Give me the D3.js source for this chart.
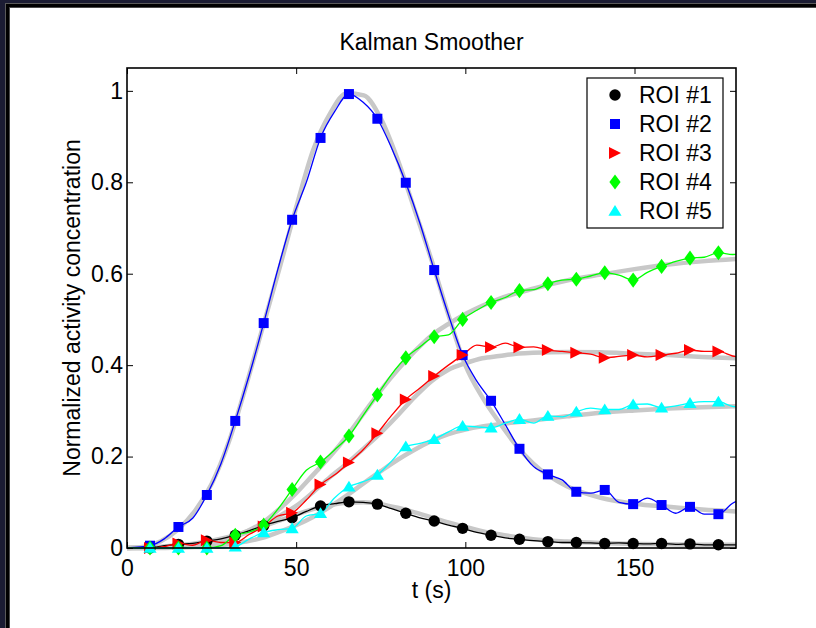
<!DOCTYPE html>
<html>
<head>
<meta charset="utf-8">
<script src="https://cdn.jsdelivr.net/npm/d3@7"></script>
<style>
  html, body { margin: 0; padding: 0; background: #1b1c33; }
  svg { display: block; }
  text { font-family: "Liberation Sans", Arial, Helvetica, sans-serif; fill: #000; }
</style>
</head>
<body>
<svg id="chart" width="816" height="628"></svg>
<script>
// ---------------- data ----------------
const title = "Kalman Smoother";
const xLabel = "t (s)";
const yLabel = "Normalized activity concentration";
const xTicks = [0, 50, 100, 150];
const yTicks = [0, 0.2, 0.4, 0.6, 0.8, 1];
const yTickLabels = ["0", "0.2", "0.4", "0.6", "0.8", "1"];
const roiNames = ["ROI #1", "ROI #2", "ROI #3", "ROI #4", "ROI #5"];
const roiColors = ["#000000", "#0000ff", "#ff0000", "#00ff00", "#00ffff"];

// measurement times (markers are drawn on every other sample, starting at 6.8 s)
const tMeas = [0, 6.8, 11.0, 15.2, 19.4, 23.6, 27.8, 32.0, 36.2, 40.4, 44.6, 48.8, 53.0, 57.2, 61.4,
  65.6, 69.8, 74.0, 78.2, 82.4, 86.6, 90.8, 95.0, 99.2, 103.4, 107.6, 111.8, 116.0, 120.2, 124.4,
  128.6, 132.8, 137.0, 141.2, 145.4, 149.6, 153.8, 158.0, 162.2, 166.4, 170.6, 174.8, 179.0, 183.2];

const roi1 = [0, 0.0, 0.005, 0.008, 0.01, 0.015, 0.02, 0.028, 0.038, 0.049, 0.058, 0.066, 0.08, 0.092,
  0.097, 0.101, 0.1, 0.096, 0.086, 0.076, 0.066, 0.059, 0.05, 0.043, 0.034, 0.028, 0.022, 0.019, 0.016,
  0.014, 0.012, 0.012, 0.011, 0.010, 0.011, 0.010, 0.009, 0.010, 0.008, 0.009, 0.007, 0.007, 0.007, 0.007];
const roi2 = [0, 0.005, 0.02, 0.046, 0.065, 0.116, 0.185, 0.278, 0.38, 0.492, 0.61, 0.718, 0.80, 0.897,
  0.955, 0.993, 0.975, 0.939, 0.875, 0.799, 0.71, 0.608, 0.51, 0.422, 0.365, 0.322, 0.27, 0.217, 0.178,
  0.161, 0.149, 0.123, 0.12, 0.127, 0.10, 0.096, 0.109, 0.094, 0.076, 0.090, 0.074, 0.074, 0.098, 0.11];
const roi3 = [0, 0.0, 0.003, 0.010, 0.006, 0.017, 0.012, 0.012, 0.03, 0.047, 0.07, 0.077, 0.105, 0.139,
  0.16, 0.187, 0.215, 0.251, 0.29, 0.325, 0.35, 0.376, 0.40, 0.422, 0.444, 0.439, 0.448, 0.439, 0.44,
  0.433, 0.43, 0.427, 0.424, 0.416, 0.419, 0.422, 0.418, 0.422, 0.426, 0.433, 0.43, 0.430, 0.42, 0.415];
const roi4 = [0, 0, 0, 0, 0, 0, 0.005, 0.028, 0.035, 0.050, 0.085, 0.128, 0.17, 0.188, 0.215, 0.245,
  0.29, 0.335, 0.38, 0.416, 0.44, 0.462, 0.466, 0.500, 0.52, 0.537, 0.548, 0.563, 0.565, 0.578, 0.586,
  0.588, 0.595, 0.602, 0.597, 0.586, 0.603, 0.616, 0.627, 0.634, 0.636, 0.646, 0.642, 0.643];
const roi5 = [0, 0, 0, 0, 0, 0, 0, 0.003, 0.02, 0.034, 0.04, 0.043, 0.07, 0.076, 0.11, 0.134, 0.145,
  0.160, 0.19, 0.222, 0.229, 0.238, 0.254, 0.267, 0.265, 0.263, 0.273, 0.282, 0.273, 0.289, 0.287,
  0.298, 0.306, 0.303, 0.303, 0.314, 0.315, 0.307, 0.311, 0.317, 0.320, 0.320, 0.31, 0.308];

// smoothed model fits (thick gray curves)
const tFit = [0, 5, 10, 15, 20, 25, 30, 35, 40, 45, 50, 55, 60, 65, 70, 75, 80, 85, 90, 95, 100,
  105, 110, 115, 120, 130, 140, 150, 160, 170, 180];
const fit1 = [0, 0.001, 0.003, 0.006, 0.01, 0.016, 0.024, 0.035, 0.047, 0.06, 0.073, 0.085, 0.094,
  0.099, 0.1, 0.096, 0.088, 0.078, 0.067, 0.056, 0.046, 0.037, 0.03, 0.024, 0.019, 0.014, 0.011,
  0.009, 0.008, 0.007, 0.007];
const fit2 = [0, 0.003, 0.015, 0.04, 0.08, 0.14, 0.23, 0.35, 0.48, 0.61, 0.745, 0.87, 0.95, 0.995,
  0.99, 0.94, 0.85, 0.74, 0.63, 0.51, 0.40, 0.33, 0.275, 0.225, 0.185, 0.135, 0.11, 0.097, 0.09,
  0.084, 0.08];
const fit3 = [0, 0, 0.001, 0.003, 0.006, 0.011, 0.02, 0.033, 0.05, 0.07, 0.092, 0.122, 0.155, 0.185,
  0.218, 0.252, 0.29, 0.33, 0.365, 0.39, 0.404, 0.415, 0.42, 0.425, 0.427, 0.429, 0.428, 0.425,
  0.422, 0.418, 0.415];
const fit4 = [0, 0, 0.001, 0.002, 0.005, 0.01, 0.02, 0.035, 0.055, 0.085, 0.12, 0.16, 0.2, 0.245,
  0.295, 0.345, 0.39, 0.43, 0.465, 0.49, 0.512, 0.53, 0.545, 0.557, 0.567, 0.585, 0.598, 0.61, 0.62,
  0.627, 0.632];
const fit5 = [0, 0, 0, 0.001, 0.002, 0.004, 0.008, 0.014, 0.022, 0.035, 0.05, 0.068, 0.09, 0.115,
  0.142, 0.168, 0.193, 0.215, 0.234, 0.249, 0.259, 0.266, 0.271, 0.275, 0.279, 0.288, 0.296, 0.301,
  0.305, 0.308, 0.31];

const measured = [roi1, roi2, roi3, roi4, roi5];
const fits = [fit1, fit2, fit3, fit4, fit5];

// ---------------- layout ----------------
const W = 816, H = 628;
const L = 127, R = 736, T = 68, B = 548;
const FONT = 23;

const svg = d3.select("#chart");

// window frame
svg.append("rect").attr("x", 0).attr("y", 0).attr("width", W).attr("height", H).attr("fill", "#1b1c33");
svg.append("rect").attr("x", 5).attr("y", 3).attr("width", W - 5).attr("height", H - 3).attr("fill", "#5a5a5a");
svg.append("rect").attr("x", 6).attr("y", 4).attr("width", W - 6).attr("height", H - 4).attr("fill", "#000");
svg.append("rect").attr("x", 9).attr("y", 7).attr("width", W - 9).attr("height", H - 7).attr("fill", "#4a4a4a");
svg.append("rect").attr("x", 10).attr("y", 8).attr("width", W - 10).attr("height", H - 8).attr("fill", "#fff");

const x = d3.scaleLinear().domain([0, 180]).range([L, R]);
const y = d3.scaleLinear().domain([0, 1.05]).range([B, T]);

svg.append("defs").append("clipPath").attr("id", "plotclip")
  .append("rect").attr("x", L).attr("y", T - 10).attr("width", R - L).attr("height", B - T + 20);

const plot = svg.append("g").attr("clip-path", "url(#plotclip)");

// gray fits
const fitLine = d3.line().x((d, i) => x(tFit[i])).y(d => y(d)).curve(d3.curveMonotoneX);
fits.forEach(f => {
  plot.append("path").attr("d", fitLine(f)).attr("fill", "none")
    .attr("stroke", "#c8c8c8").attr("stroke-width", 4.5).attr("stroke-linecap", "round");
});

// measured thin lines + markers
const measLine = d3.line().x((d, i) => x(tMeas[i])).y(d => y(d)).curve(d3.curveMonotoneX);

const shapes = [
  s => `M${-s},0A${s},${s} 0 1,0 ${s},0A${s},${s} 0 1,0 ${-s},0Z`,
  s => `M${-s},${-s}H${s}V${s}H${-s}Z`,
  s => `M${-s},${-s}L${s},0L${-s},${s}Z`,
  s => `M0,${-s * 1.35}L${s},0L0,${s * 1.35}L${-s},0Z`,
  s => `M0,${-s}L${s * 1.1},${s * 0.8}L${-s * 1.1},${s * 0.8}Z`
];
const shapeSize = [5.7, 5, 6, 5.6, 6];

measured.forEach((m, r) => {
  plot.append("path").attr("d", measLine(m)).attr("fill", "none")
    .attr("stroke", roiColors[r]).attr("stroke-width", 1.3);
});
measured.forEach((m, r) => {
  const pts = m.map((v, i) => ({ t: tMeas[i], v, i })).filter(d => d.i % 2 === 1 && d.t <= 180);
  plot.selectAll(null).data(pts).enter().append("path")
    .attr("transform", d => `translate(${x(d.t)},${y(d.v)})`)
    .attr("d", shapes[r](shapeSize[r]))
    .attr("fill", roiColors[r]);
});

// axes (inward ticks, box)
const tick = 6;
const fmtY = d => yTickLabels[yTicks.indexOf(d)];
const gx = svg.append("g").attr("transform", `translate(0,${B})`)
  .call(d3.axisBottom(x).tickValues(xTicks).tickSizeInner(-tick).tickSizeOuter(0).tickPadding(12).tickFormat(d3.format("d")));
const gxt = svg.append("g").attr("transform", `translate(0,${T})`)
  .call(d3.axisTop(x).tickValues(xTicks).tickSizeInner(-tick).tickSizeOuter(0).tickFormat(""));
const gy = svg.append("g").attr("transform", `translate(${L},0)`)
  .call(d3.axisLeft(y).tickValues(yTicks).tickSizeInner(-tick).tickSizeOuter(0).tickPadding(4).tickFormat(fmtY));
const gyr = svg.append("g").attr("transform", `translate(${R},0)`)
  .call(d3.axisRight(y).tickValues(yTicks).tickSizeInner(-tick).tickSizeOuter(0).tickFormat(""));
[gx, gxt, gy, gyr].forEach(g => {
  g.select(".domain").remove();
  g.selectAll(".tick line").attr("stroke", "#000").attr("stroke-width", 1);
  g.selectAll(".tick text").style("font-size", FONT + "px")
    .style("font-family", '"Liberation Sans", Arial, Helvetica, sans-serif').attr("fill", "#000");
});
// hide ticks at the box edges (0 and ends coincide with frame)
svg.append("rect").attr("x", L).attr("y", T).attr("width", R - L).attr("height", B - T)
  .attr("fill", "none").attr("stroke", "#000").attr("stroke-width", 1.6);

// title and labels
svg.append("text").attr("x", (L + R) / 2).attr("y", 50).attr("text-anchor", "middle")
  .style("font-size", FONT + "px").text(title);
svg.append("text").attr("x", (L + R) / 2).attr("y", 598).attr("text-anchor", "middle")
  .style("font-size", FONT + "px").text(xLabel);
svg.append("text").attr("transform", `translate(80,${(T + B) / 2}) rotate(-90)`).attr("text-anchor", "middle")
  .style("font-size", FONT + "px").text(yLabel);

// legend
const lg = svg.append("g");
lg.append("rect").attr("x", 587).attr("y", 78).attr("width", 136).attr("height", 150)
  .attr("fill", "#fff").attr("stroke", "#000").attr("stroke-width", 1.2);
const ly = d3.scalePoint().domain(roiNames).range([95, 211]);
roiNames.forEach((name, r) => {
  lg.append("path").attr("transform", `translate(615,${ly(name)})`)
    .attr("d", shapes[r](shapeSize[r])).attr("fill", roiColors[r]);
  lg.append("text").attr("x", 639).attr("y", ly(name)).attr("dy", "0.35em")
    .style("font-size", FONT + "px").text(name);
});
</script>
</body>
</html>
